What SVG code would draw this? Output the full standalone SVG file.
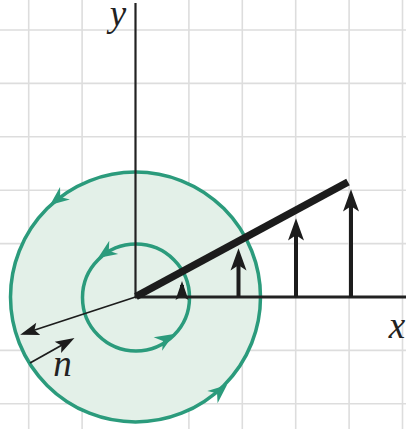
<svg xmlns="http://www.w3.org/2000/svg" xmlns:xlink="http://www.w3.org/1999/xlink" width="406" height="429" viewBox="0 0 406 429">
<style>
.grid{stroke:#dddddd;stroke-width:1.6;fill:none}
.ring{fill:none;stroke:#2b9b7c;stroke-width:3.5}
.axis{stroke:#222;fill:none}
.vec{stroke:#1c1c1c;stroke-width:4;fill:none}
.thin{stroke:#1c1c1c;stroke-width:1.8;fill:none}
.lbl{font-family:"Liberation Serif","DejaVu Serif",serif;font-style:italic;font-size:37px;fill:#222;text-anchor:middle}
</style>
<defs>
<path id="gh" d="M0,0 L-19,-8 L-13,0 L-19,8 Z" fill="#2b9b7c"/>
<marker id="bh" markerUnits="userSpaceOnUse" markerWidth="40" markerHeight="40" refX="0" refY="0" viewBox="-30 -15 45 30" orient="auto" overflow="visible">
<path d="M12,0 L-13,-9 L-7,0 L-13,9 Z" fill="#1c1c1c"/>
</marker>
<marker id="th" markerUnits="userSpaceOnUse" markerWidth="30" markerHeight="30" refX="0" refY="0" viewBox="-20 -10 30 20" orient="auto" overflow="visible">
<path d="M4,0 L-15,-6.5 L-11,0 L-15,6.5 Z" fill="#1c1c1c"/>
</marker>
</defs>
<rect width="406" height="429" fill="#ffffff"/>
<g id="grid" class="grid">
<path d="M28.7,0V429M82.1,0V429M188.9,0V429M242.3,0V429M295.7,0V429M349.1,0V429M402.5,0V429"/>
<path d="M0,30H406M0,83.4H406M0,136.8H406M0,190.2H406M0,243.6H406M0,350.4H406M0,403.8H406"/>
</g>
<g id="outer-loop">
<circle cx="135.5" cy="297" r="125" fill="#e3f0e8"/>
<circle class="ring" cx="135.5" cy="297" r="125"/>
<use xlink:href="#gh" transform="translate(50,205) rotate(142)"/>
<use xlink:href="#gh" transform="translate(227,385) rotate(-40)"/>
</g>
<g id="inner-loop">
<circle class="ring" cx="136" cy="297.5" r="53.5"/>
<use xlink:href="#gh" transform="translate(98,258) rotate(146)"/>
<use xlink:href="#gh" transform="translate(174,334) rotate(-32)"/>
</g>
<g id="axes">
<line class="axis" x1="135.5" y1="3" x2="135.5" y2="297" stroke-width="2.2"/>
<line class="axis" x1="135" y1="297" x2="406" y2="297" stroke-width="3"/>
<text class="lbl" x="118" y="26">y</text>
<text class="lbl" x="397" y="338">x</text>
</g>
<g id="connectors">
<line class="vec" x1="182" y1="297" x2="182" y2="285" marker-end="url(#th)"/>
<line class="vec" x1="238.5" y1="297" x2="238.5" y2="259" marker-end="url(#bh)"/>
<line class="vec" x1="296" y1="297" x2="296" y2="229" marker-end="url(#bh)"/>
<line class="vec" x1="351" y1="297" x2="351" y2="200" marker-end="url(#bh)"/>
<line x1="136" y1="296.5" x2="348" y2="182" stroke="#1c1c1c" stroke-width="7.5"/>
<line class="thin" x1="135.5" y1="297" x2="24" y2="333.5" marker-end="url(#th)"/>
<line class="thin" x1="30" y1="363" x2="71" y2="340" marker-end="url(#th)"/>
</g>
<g id="label-n">
<text class="lbl" x="62.5" y="376">n</text>
</g>
</svg>
